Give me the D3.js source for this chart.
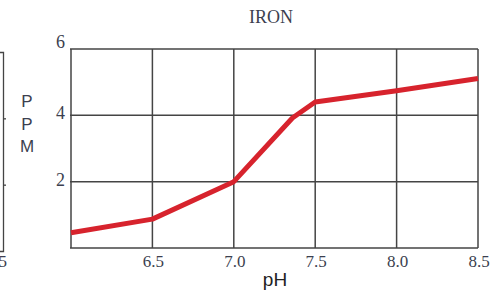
<!DOCTYPE html>
<html>
<head>
<meta charset="utf-8">
<script src="https://cdn.jsdelivr.net/npm/d3@7"></script>
<style>
body { margin: 0; background: #fff; }
</style>
</head>
<body>
<div id="chart"></div>
<script>
var ph = [6.0, 6.5, 7.0, 7.36, 7.5, 8.0, 8.5]
var ppm = [0.46, 0.87, 2.0, 3.92, 4.4, 4.74, 5.11]
var xTicks = [6.5, 7.0, 7.5, 8.0, 8.5]
var yTicks = [2, 4, 6]

var width = 494
var height = 294
var svg = d3.select("#chart").append("svg").attr("width", width).attr("height", height)

var x = d3.scaleLinear().domain([6, 8.5]).range([71, 478])
var y = d3.scaleLinear().domain([0, 6]).range([248, 49])

var gridColor = "#444"
var textColor = "#3c3f4f"

// grid
var g = svg.append("g")
g.selectAll(".vgrid").data([6.0].concat(xTicks)).enter().append("line")
    .attr("class", "vgrid")
    .attr("x1", function(d) { return x(d) }).attr("x2", function(d) { return x(d) })
    .attr("y1", y(6)).attr("y2", y(0))
    .attr("stroke", gridColor).attr("stroke-width", 1.5)
g.selectAll(".hgrid").data([0].concat(yTicks)).enter().append("line")
    .attr("class", "hgrid")
    .attr("x1", x(6) - 1).attr("x2", x(8.5))
    .attr("y1", function(d) { return y(d) }).attr("y2", function(d) { return y(d) })
    .attr("stroke", gridColor).attr("stroke-width", 1.5)

// tick labels
g.selectAll(".xlab").data(xTicks).enter().append("text")
    .attr("x", function(d) { return x(d) + 1 })
    .attr("y", 267)
    .attr("text-anchor", "middle")
    .attr("font-family", "Liberation Serif, serif")
    .attr("font-size", 17)
    .attr("fill", textColor)
    .text(function(d) { return d.toFixed(1) })
g.selectAll(".ylab").data(yTicks).enter().append("text")
    .attr("x", 65)
    .attr("y", function(d) { return d == 6 ? y(d) - 1 : y(d) + 4 })
    .attr("text-anchor", "end")
    .attr("font-family", "Liberation Serif, serif")
    .attr("font-size", 18)
    .attr("fill", textColor)
    .text(function(d) { return d })

// line
var line = d3.line().x(function(d, i) { return x(ph[i]) }).y(function(d) { return y(d) })
svg.append("path").datum(ppm)
    .attr("d", line)
    .attr("fill", "none")
    .attr("stroke", "#d7232d")
    .attr("stroke-width", 5)
    .attr("stroke-linejoin", "round")

// title and axis titles
svg.append("text").attr("x", 271).attr("y", 23).attr("text-anchor", "middle")
    .attr("font-family", "Liberation Serif, serif").attr("font-size", 18)
    .attr("fill", textColor).text("IRON")
svg.append("text").attr("x", 275).attr("y", 286).attr("text-anchor", "middle")
    .attr("font-family", "Liberation Sans, Arial, sans-serif").attr("font-size", 19)
    .attr("fill", "#222").text("pH")
var yl = svg.append("text").attr("font-family", "Liberation Sans, Arial, sans-serif")
    .attr("font-size", 17).attr("fill", textColor).attr("text-anchor", "middle")
;["P", "P", "M"].forEach(function(c, i) {
    yl.append("tspan").attr("x", 27).attr("y", 107 + i * 22.5).text(c)
})

// fragment of neighbouring chart on the left edge
var yFrag = d3.scaleLinear().domain([0, 6]).range([251, 52])
svg.append("g").attr("transform", "translate(3,0)")
    .call(d3.axisRight(yFrag).tickValues([2, 4]).tickSize(3).tickFormat("").tickSizeOuter(-3))
    .call(function(a) { a.selectAll("path, line").attr("stroke", gridColor).attr("stroke-width", 1.3) })
svg.append("text").attr("x", 7).attr("y", 267).attr("text-anchor", "end")
    .attr("font-family", "Liberation Serif, serif").attr("font-size", 17)
    .attr("fill", textColor).text("5")
</script>
</body>
</html>
